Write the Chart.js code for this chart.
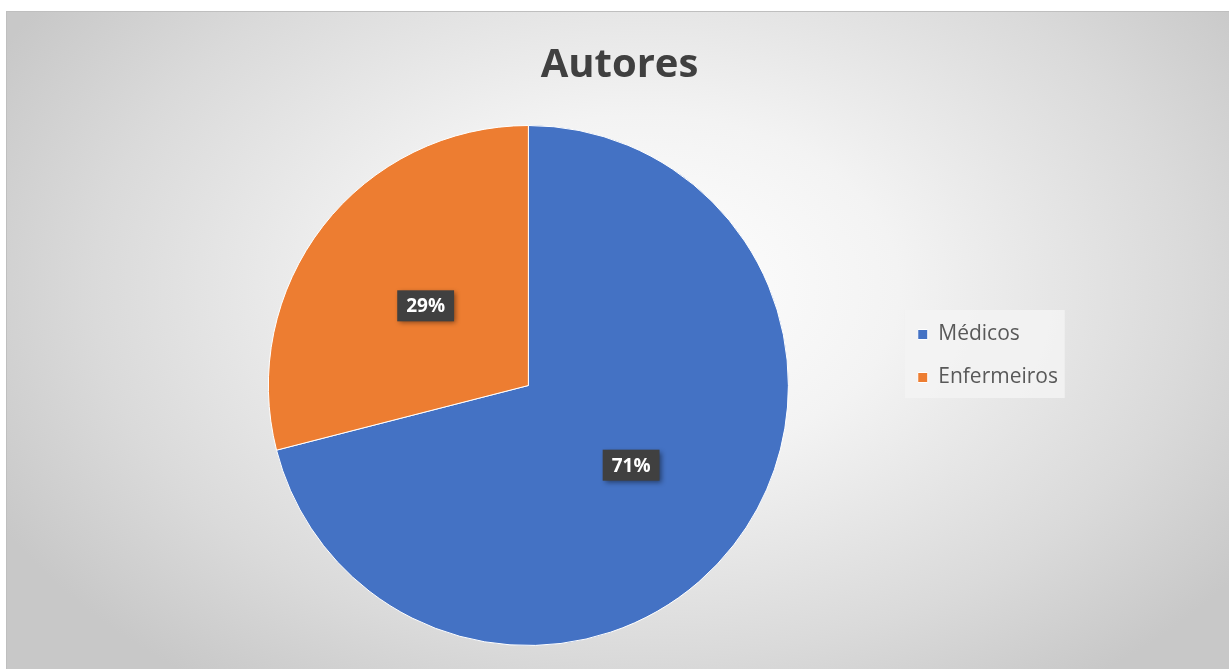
<!DOCTYPE html>
<html>
<head>
<meta charset="utf-8">
<script src="https://cdn.jsdelivr.net/npm/chart.js@4.4.0/dist/chart.umd.min.js"></script>
<style>
  html, body { margin: 0; padding: 0; background: #ffffff; }
  #frame {
    position: absolute; left: 6px; top: 11px; width: 1223px; height: 658px;
    background: radial-gradient(ellipse 60% 75% at 52% 42%, #ffffff 0%, #f3f3f3 35%, #dadada 75%, #c8c8c8 100%);
    border-top: 1px solid #bfbfbf; border-left: 1px solid #bfbfbf;
    box-sizing: border-box;
  }
</style>
</head>
<body>
<div id="frame"><canvas id="c" width="1222" height="657"></canvas></div>
<script>
// dados do gráfico
var categorias = ["Médicos", "Enfermeiros"];
var valores = [71, 29];
var cores = ["#4472c4", "#ed7d31"];
var titulo = "Autores";

var deslocLegenda = 27; // desce a legenda um pouco
var deslocTitulo = 5;   // título um pouco à direita

// desloca legenda/título, desenha o fundo da legenda e os rótulos de percentagem
var extras = {
  id: "extras",
  afterLayout: function (chart) {
    var lg = chart.legend;
    if (lg) {
      lg.top += deslocLegenda;
      lg.bottom += deslocLegenda;
    }
    var tb = chart.titleBlock;
    if (tb) {
      tb.left += deslocTitulo;
      tb.right += deslocTitulo;
    }
  },
  beforeDraw: function (chart) {
    var lg = chart.legend;
    if (!lg) return;
    var ctx = chart.ctx;
    var mid = (lg.top + lg.bottom) / 2;
    ctx.save();
    ctx.fillStyle = "rgba(243,243,243,0.85)";
    ctx.fillRect(lg.left + 9, mid - 46, 160, 88);
    ctx.restore();
  },
  afterDatasetsDraw: function (chart) {
    var ctx = chart.ctx;
    var meta = chart.getDatasetMeta(0);
    var total = valores.reduce(function (a, b) { return a + b; }, 0);
    ctx.save();
    ctx.font = "bold 19px 'Open Sans'";
    ctx.textAlign = "center";
    ctx.textBaseline = "middle";
    meta.data.forEach(function (arc, i) {
      var p = arc.tooltipPosition();
      var txt = Math.round(valores[i] / total * 100) + "%";
      var w = ctx.measureText(txt).width + 18, h = 31;
      ctx.shadowColor = "rgba(0,0,0,0.45)";
      ctx.shadowBlur = 5;
      ctx.shadowOffsetX = 2;
      ctx.shadowOffsetY = 2;
      ctx.fillStyle = "#404040";
      ctx.fillRect(p.x - w / 2, p.y - h / 2, w, h);
      ctx.shadowColor = "transparent";
      ctx.fillStyle = "#ffffff";
      ctx.fillText(txt, p.x, p.y + 1);
    });
    ctx.restore();
  }
};

new Chart(document.getElementById("c"), {
  type: "pie",
  data: {
    labels: categorias,
    datasets: [{
      data: valores,
      backgroundColor: cores,
      borderColor: "#ffffff",
      borderWidth: 1
    }]
  },
  options: {
    responsive: false,
    animation: false,
    layout: { padding: { left: 154, right: 161, bottom: 23 } },
    plugins: {
      title: {
        display: true,
        text: titulo,
        color: "#404040",
        font: { family: "'Open Sans'", size: 40, weight: "bold" },
        padding: { top: 30, bottom: 35 }
      },
      legend: {
        position: "right",
        labels: {
          color: "#595959",
          font: { family: "'Open Sans'", size: 21 },
          boxWidth: 10,
          boxHeight: 10,
          padding: 22
        }
      },
      tooltip: { enabled: false }
    }
  },
  plugins: [extras]
});
</script>
</body>
</html>
